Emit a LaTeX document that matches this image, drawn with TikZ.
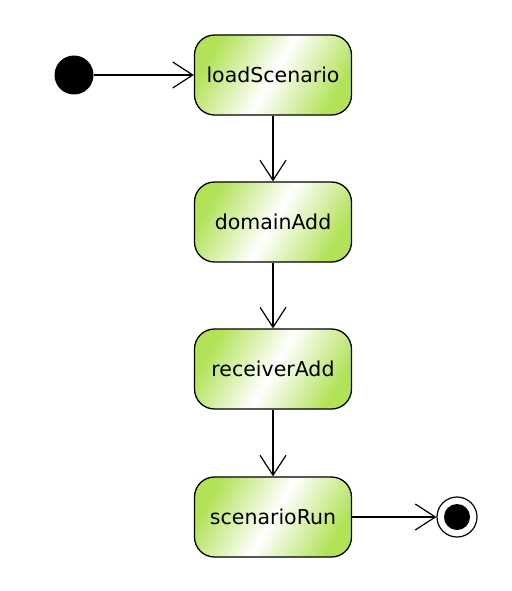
\documentclass[tikz,border=0pt]{standalone}
\usepackage{fontspec}
\setmainfont{DejaVu Sans}
\usetikzlibrary{arrows.meta}
\definecolor{stgreen}{RGB}{178,226,88}
\begin{document}
\begin{tikzpicture}[x=1pt,y=-1pt,
  state/.style={draw=black, line width=1.3pt, rounded corners=20pt,
    minimum width=157pt, minimum height=80pt, inner sep=0pt,
    left color=stgreen, right color=stgreen, middle color=white, shading angle=60,
    font=\fontsize{20.5}{24}\selectfont},
  flow/.style={line width=1.2pt, -{Straight Barb[length=20pt,width=26pt,line width=1.2pt]}}]
\useasboundingbox (0,0) rectangle (511,591);
\fill[white] (0,0) rectangle (511,591);
\node[circle, fill=black, minimum size=39pt, inner sep=0pt] (start) at (74,75) {};
\node[state] (load) at (273,75) {loadScenario};
\node[state] (dom) at (273,222) {domainAdd};
\node[state] (recv) at (273,369) {receiverAdd};
\node[state] (run) at (273,517) {scenarioRun};
\node[circle, draw=black, line width=1.2pt, fill=white, minimum size=40pt, inner sep=0pt] (end) at (457,517) {};
\node[circle, fill=black, minimum size=26pt, inner sep=0pt] (endin) at (457,517) {};
\draw[flow] (start) -- (load);
\draw[flow] (load) -- (dom);
\draw[flow] (dom) -- (recv);
\draw[flow] (recv) -- (run);
\draw[flow] (run) -- (end);
\end{tikzpicture}
\end{document}
